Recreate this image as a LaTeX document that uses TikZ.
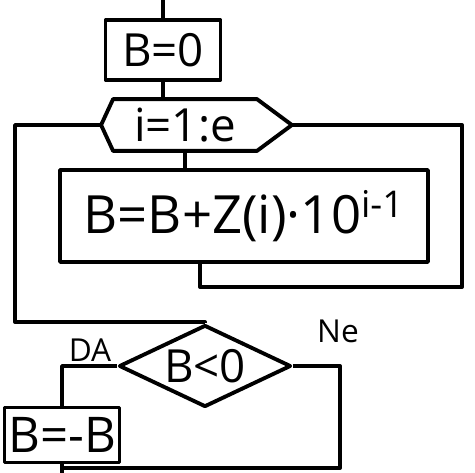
\documentclass[tikz,border=0pt]{standalone}
\usepackage{fontspec}
\setmainfont{Open Sans}
\usetikzlibrary{shapes.geometric, positioning, calc}

\tikzset{
  box/.style={draw, rectangle, inner sep=0pt},
  test/.style={draw, diamond, inner sep=0pt, aspect=2.1},
  tag/.style={font=\fontsize{18}{20}\selectfont},
}

\begin{document}
\begin{tikzpicture}[x=0.02cm, y=-0.02cm, line width=2.2pt, line join=round,
    font=\fontsize{26}{28}\selectfont]
        \useasboundingbox (0,0) rectangle (475,472);

        % Boxes
        \node[box, minimum width=2.3cm, minimum height=1.2cm] (init) at (163,50) {B=0};
        \node[minimum width=2.8cm, minimum height=0.96cm, inner sep=0pt] (loop) at (185,125) {i=1:e};
        \node[box, minimum width=7.36cm, minimum height=1.84cm, font=\fontsize{30}{32}\selectfont] (body) at (244,216) {B=B+Z(i)·10\textsuperscript{i-1}};
        \node[test, minimum width=3.44cm, minimum height=1.64cm] (cond) at (205,366) {B<0};
        \node[box, minimum width=2.3cm, minimum height=1.1cm, font=\fontsize{28}{30}\selectfont] (neg) at (62,435) {B=-B};

        % Loop outline
        \draw (loop.north west) -- (loop.north east) -- ([xshift=0.7cm]loop.east) coordinate (looptip)
            -- (loop.south east) -- (loop.south west) -- ([xshift=-0.24cm]loop.west) coordinate (loopnotch) -- cycle;

        % Connections
        \coordinate (start) at (163,0);
        \coordinate (back) at (462,287);
        \coordinate (exit) at (15,322);
        \coordinate (merge) at (340,468);
        \draw (start) -- (init);
        \draw (init.south) -- (init.south |- loop.north);
        \draw (loop.south) -- (loop.south |- body.north);
        \draw (looptip) -| (back) -| ([xshift=-0.88cm]body.south);
        \draw (loopnotch) -| (exit) -| (cond.north);
        \draw (cond.west) -| (neg.north);
        \draw (cond.east) -| (merge) -- (neg.south |- merge);
        \draw (neg.south) -- ++(0,10);

        % Labels
        \node[tag] (yes) at (90,350) {DA};
        \node[tag] (no) at (338,331) {Ne};
    \end{tikzpicture}
\end{document}
